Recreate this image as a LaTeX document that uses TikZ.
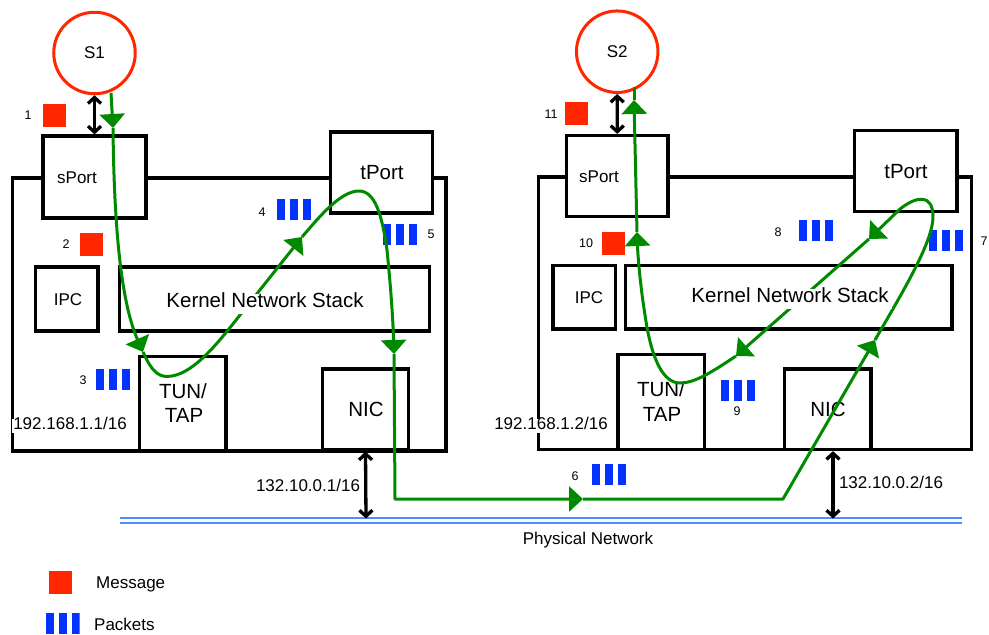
\documentclass[tikz,border=0pt]{standalone}
\usepackage{fontspec}
\setmainfont{Liberation Sans}
\usetikzlibrary{arrows.meta,calc}
\definecolor{gr}{RGB}{0,138,0}
\definecolor{rd}{RGB}{255,38,0}
\definecolor{pb}{RGB}{4,51,255}
\definecolor{nb}{RGB}{80,140,255}
\tikzset{
  boxn/.style={draw, line width=3.2pt, fill=white, inner sep=0pt, rectangle},
  srv/.style={circle, draw=rd, line width=3pt, minimum size=81.5pt, inner sep=0pt, fill=white},
  txtL/.style={font=\fontsize{20.5}{24}\selectfont, text height=0.716em, text depth=0pt, inner sep=0pt, yshift=-2pt},
  txtM/.style={font=\fontsize{17}{20}\selectfont, text height=0.716em, text depth=0pt, inner sep=0pt, yshift=-2pt},
  txtS/.style={font=\fontsize{12.5}{15}\selectfont, text height=0.716em, text depth=0pt, inner sep=0pt, yshift=-1.5pt},
  msg/.style={fill=rd, minimum size=23pt, inner sep=0pt},
  packets/.style={minimum width=34pt, minimum height=21pt, inner sep=0pt,
    path picture={
      \fill[pb] (path picture bounding box.north west) rectangle ++(8pt,-21pt);
      \fill[pb] ($(path picture bounding box.north west)+(13pt,0pt)$) rectangle ++(8pt,-21pt);
      \fill[pb] ($(path picture bounding box.north west)+(26pt,0pt)$) rectangle ++(8pt,-21pt);
    }},
  flow/.style={draw=gr, line width=3pt, line join=round},
  ftip/.style={-{Triangle[length=14pt,width=25pt]}},
  dbl/.style={line width=3.3pt, {Straight Barb[length=6pt,width=13pt]}-{Straight Barb[length=6pt,width=13pt]}},
  netl/.style={draw=nb, line width=1.4pt}
}
\newcommand{\bx}[5]{\node[boxn, minimum width={(#4-#2)*1pt}, minimum height={(#5-#3)*1pt}] (#1) at ({(#2+#4)/2},{(#3+#5)/2}) {};}
\begin{document}
\begin{tikzpicture}[x=1pt,y=-1pt]
\useasboundingbox (0,0) rectangle (989,635);
% ---------- left host ----------
\bx{hostL}{12.5}{178}{446}{451}
\bx{sportL}{43}{136}{146}{218}
\bx{tportL}{330.5}{132}{432.5}{213}
\bx{ipcL}{35.5}{267}{98}{331}
\bx{knsL}{119.5}{267}{429.5}{331}
\bx{tunL}{139.5}{356.5}{226}{451}
\bx{nicL}{322.5}{369}{408.5}{450}
% ---------- right host ----------
\bx{hostR}{538.5}{177}{971.5}{449.5}
\bx{sportR}{566.5}{135.5}{668}{216.5}
\bx{tportR}{854.5}{130.5}{957}{211.5}
\bx{ipcR}{553}{265.5}{615.5}{329}
\bx{knsR}{625.5}{265.5}{952}{329}
\bx{tunR}{618}{354.5}{704.5}{449.5}
\bx{nicR}{784.5}{369}{871}{449.5}
% servers
\node[srv] (S1) at (94.5,53) {};
\node[srv] (S2) at (617.2,51.7) {};
\node[txtM] (S1t) at (94.5,53) {S1};
\node[txtM] (S2t) at (617.2,52) {S2};
% network
\coordinate (netA) at (120,518);
\coordinate (netB) at (962,518);
\draw[netl] (netA) -- (netB);
\draw[netl] ($(netA)+(0,5)$) -- ($(netB)+(0,5)$);
\coordinate (netL) at (366,518.5);
\coordinate (netR) at (833,518.5);
% double arrows
\draw[dbl] (S1.south) -- (sportL.north);
\draw[dbl] (S2.south) -- (sportR.north);
\draw[dbl] (nicL.south) -- (netL);
\draw[dbl] (nicR.south -| netR) -- (netR);
% box texts
\node[txtM] (sportLt) at (77,178) {sPort};
\node[txtM] (sportRt) at (599,177) {sPort};
\node[txtL] (tportLt) at (382,174) {tPort};
\node[txtL] (tportRt) at (906,173) {tPort};
\node[txtM] (ipcLt) at (68,300) {IPC};
\node[txtM] (ipcRt) at (589,298) {IPC};
\node[txtL] (tunL1) at (183,393) {TUN/};
\node[txtL] (tunL2) at (184,417) {TAP};
\node[txtL] (tunR1) at (661,391) {TUN/};
\node[txtL] (tunR2) at (662,416) {TAP};
\node[txtL] (nicLt) at (366,411) {NIC};
\node[txtL] (nicRt) at (828,411) {NIC};
\node[txtM, fill=white, inner xsep=1pt, inner ysep=3pt] (ipL) at (70,424) {192.168.1.1/16};
\node[txtM, fill=white, inner xsep=1pt, inner ysep=3pt] (ipR) at (551,424) {192.168.1.2/16};
\node[txtM] (pubL) at (308,486) {132.10.0.1/16};
\node[txtM] (pubR) at (891,483) {132.10.0.2/16};
\node[txtM] (phys) at (588,539) {Physical Network};
% messages and packets
\node[msg] (m1) at (54,115.5) {};
\node[msg] (m2) at (91,244.5) {};
\node[msg] (m10) at (613.5,243.5) {};
\node[msg] (m11) at (576.5,113.5) {};
\node[packets] (p3) at (113,379.5) {};
\node[packets] (p4) at (294,209.5) {};
\node[packets] (p5) at (400,234.5) {};
\node[packets] (p6) at (609,474.5) {};
\node[packets] (p7) at (946,240.5) {};
\node[packets] (p8) at (816,230.5) {};
\node[packets] (p9) at (738,390.5) {};
\node[txtS] (n1) at (28,114) {1};
\node[txtS] (n2) at (66,243) {2};
\node[txtS] (n3) at (83,379) {3};
\node[txtS] (n4) at (262,211) {4};
\node[txtS] (n5) at (431,233) {5};
\node[txtS] (n6) at (575,475) {6};
\node[txtS] (n7) at (984,240) {7};
\node[txtS] (n8) at (778,231) {8};
\node[txtS] (n9) at (737,410) {9};
\node[txtS] (n10) at (586,242) {10};
\node[txtS] (n11) at (551,113) {11};
% legend
\node[msg] (lm) at (60.5,582) {};
\node[txtM, anchor=west] (lmt) at (96,583) {Message};
\node[packets] (lp) at (62.5,623.5) {};
\node[txtM, anchor=west] (lpt) at (94,625) {Packets};
% ---------- green flow ----------
\coordinate (g0) at (111,93);
\coordinate (g1) at (113,128);
\coordinate (g2) at (143,352);
\coordinate (g3) at (302,237);
\coordinate (g4) at (394,354);
\coordinate (g5) at (583,499);
\coordinate (g6) at (875,340);
\coordinate (g7) at (869,239);
\coordinate (g8) at (736,356);
\coordinate (g9) at (637,232);
\coordinate (g10) at (634,100);
\coordinate (g11) at (634,87);
\draw[flow,ftip] (g0) -- (g1);
\draw[flow,ftip] (g1) .. controls (114,220) and (120,300) .. (g2);
\draw[flow,ftip] (g2) .. controls (153,374) and (160,378) .. (172,376) .. controls (195,372) and (218,343) .. (240,315) -- (g3);
\draw[flow,ftip] (g3) .. controls (320,216) and (340,192) .. (358,191) .. controls (375,190) and (382,215) .. (387,250) .. controls (391,290) and (393,320) .. (g4);
\draw[flow,ftip] (g4) -- (395,499) -- (g5);
\draw[flow,ftip] (g5) -- (783,499) -- (g6);
\draw[flow,ftip] (g6) .. controls (905,288) and (934,240) .. (933,215) .. controls (932,195) and (918,195) .. (900,209) -- (g7);
\draw[flow,ftip] (g7) -- (g8);
\draw[flow,ftip] (g8) .. controls (712,372) and (695,383) .. (680,383) .. controls (660,383) and (650,350) .. (645,315) .. controls (641,290) and (638,260) .. (g9);
\draw[flow,ftip] (g9) -- (g10);
\draw[flow] (g10) -- (g11);
% stack labels on top
\node[txtL, fill=white, inner xsep=3pt, inner ysep=6.5pt] (knsLt) at (265,302) {Kernel Network Stack};
\node[txtL, fill=white, inner xsep=3pt, inner ysep=6.5pt] (knsRt) at (790,297) {Kernel Network Stack};
\end{tikzpicture}
\end{document}
